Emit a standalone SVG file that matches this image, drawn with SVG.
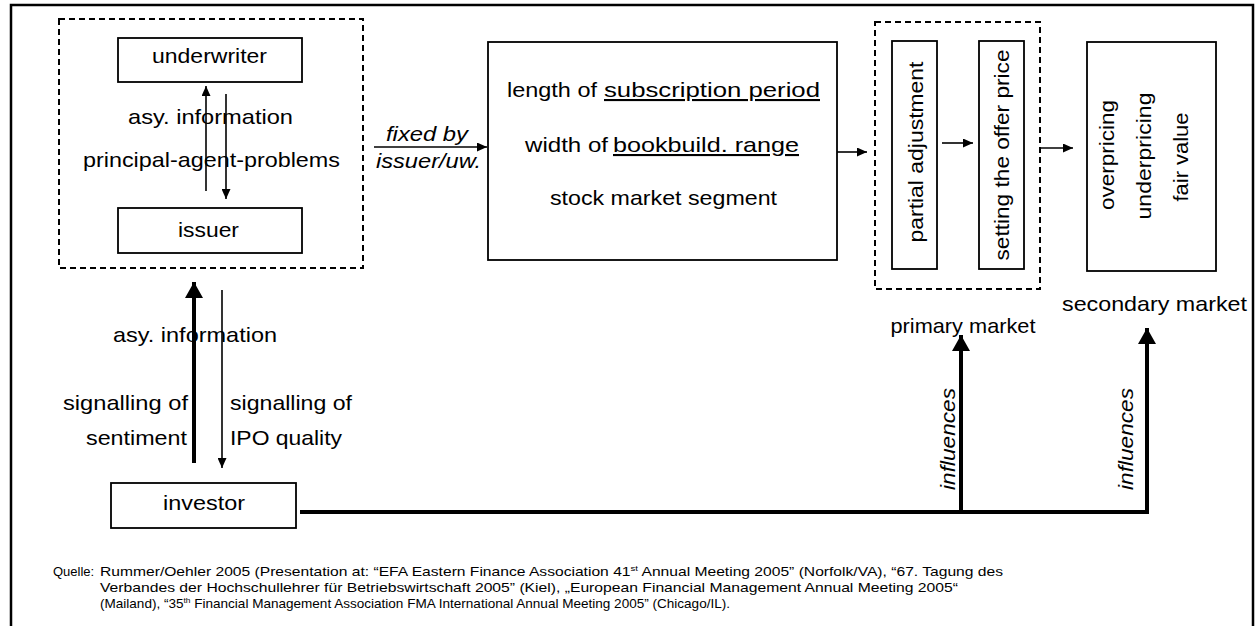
<svg xmlns="http://www.w3.org/2000/svg" width="1260" height="626" viewBox="0 0 1260 626">
<defs>
<style>
text{font-family:"Liberation Sans",Arial,sans-serif;fill:#000;}
.t{font-size:21px;}
.it{font-size:21px;font-style:italic;}
.ft{font-size:13px;}
.box{fill:#fff;stroke:#000;stroke-width:1.8;}
.dash{fill:none;stroke:#000;stroke-width:2;stroke-dasharray:6 4;}
.thin{fill:none;stroke:#000;stroke-width:1.6;}
.thick{fill:none;stroke:#000;stroke-width:4;}
.ul{text-decoration:underline;}
</style>
<marker id="ah" markerUnits="userSpaceOnUse" markerWidth="10" markerHeight="9" refX="10" refY="4.5" orient="auto">
<path d="M0,0 L10,4.5 L0,9 z" fill="#000"/>
</marker>
<marker id="ahT" markerUnits="userSpaceOnUse" markerWidth="16" markerHeight="18" refX="16" refY="9" orient="auto">
<path d="M0,0 L16,9 L0,18 z" fill="#000"/>
</marker>
</defs>
<rect width="1260" height="626" fill="#fff"/>
<rect x="11" y="5" width="1242" height="630" fill="none" stroke="#000" stroke-width="2.5"/>

<g id="issuer-group">
<rect class="dash" x="59" y="19" width="304" height="249"/>
</g>
<g id="underwriter">
<rect class="box" x="118" y="38" width="184" height="44"/>
<text class="t" x="152" y="63" textLength="115" lengthAdjust="spacingAndGlyphs">underwriter</text>
</g>
<g id="issuer">
<rect class="box" x="118" y="208" width="184" height="45"/>
<text class="t" x="178" y="237" textLength="61" lengthAdjust="spacingAndGlyphs">issuer</text>
</g>
<g id="parameters">
<rect class="box" x="488" y="42" width="349" height="218"/>
<text class="t" x="507" y="97" textLength="90" lengthAdjust="spacingAndGlyphs">length of</text>
<text class="t ul" x="604" y="97" textLength="216" lengthAdjust="spacingAndGlyphs">subscription period</text>
<text class="t" x="525" y="152" textLength="83" lengthAdjust="spacingAndGlyphs">width of</text>
<text class="t ul" x="613" y="152" textLength="186" lengthAdjust="spacingAndGlyphs">bookbuild. range</text>
<text class="t" x="550" y="205" textLength="227" lengthAdjust="spacingAndGlyphs">stock market segment</text>
</g>
<g id="primary-market">
<rect class="dash" x="875" y="22" width="165" height="267"/>
<text class="t" x="963" y="333" text-anchor="middle" textLength="145" lengthAdjust="spacingAndGlyphs">primary market</text>
</g>
<g id="partial-adjustment">
<rect class="box" x="892" y="41" width="45" height="228"/>
<text class="t" transform="translate(923,152) rotate(-90)" text-anchor="middle" textLength="181" lengthAdjust="spacingAndGlyphs">partial adjustment</text>
</g>
<g id="offer-price">
<rect class="box" x="979" y="41" width="45" height="228"/>
<text class="t" transform="translate(1009,155) rotate(-90)" text-anchor="middle" textLength="211" lengthAdjust="spacingAndGlyphs">setting the offer price</text>
</g>
<g id="secondary-market">
<rect class="box" x="1087" y="42" width="129" height="229"/>
<text class="t" transform="translate(1114,155) rotate(-90)" text-anchor="middle" textLength="110" lengthAdjust="spacingAndGlyphs">overpricing</text>
<text class="t" transform="translate(1151,156) rotate(-90)" text-anchor="middle" textLength="127" lengthAdjust="spacingAndGlyphs">underpricing</text>
<text class="t" transform="translate(1188,157) rotate(-90)" text-anchor="middle" textLength="89" lengthAdjust="spacingAndGlyphs">fair value</text>
<text class="t" x="1062" y="311" textLength="185" lengthAdjust="spacingAndGlyphs">secondary market</text>
</g>
<g id="investor">
<rect class="box" x="111" y="483" width="185" height="45"/>
<text class="t" x="163" y="510" textLength="82" lengthAdjust="spacingAndGlyphs">investor</text>
</g>

<g id="labels">
<text class="t" x="128" y="124" textLength="165" lengthAdjust="spacingAndGlyphs">asy. information</text>
<text class="t" x="83" y="167" textLength="257" lengthAdjust="spacingAndGlyphs">principal-agent-problems</text>
<text class="it" x="386" y="141" textLength="82" lengthAdjust="spacingAndGlyphs">fixed by</text>
<text class="it" x="376" y="168" textLength="105" lengthAdjust="spacingAndGlyphs">issuer/uw.</text>
<text class="t" x="113" y="342" textLength="164" lengthAdjust="spacingAndGlyphs">asy. information</text>
<text class="t" x="63" y="410" textLength="125" lengthAdjust="spacingAndGlyphs">signalling of</text>
<text class="t" x="86" y="445" textLength="101" lengthAdjust="spacingAndGlyphs">sentiment</text>
<text class="t" x="230" y="410" textLength="122" lengthAdjust="spacingAndGlyphs">signalling of</text>
<text class="t" x="230" y="445" textLength="112" lengthAdjust="spacingAndGlyphs">IPO quality</text>
<text class="it" transform="translate(955,439) rotate(-90)" text-anchor="middle" textLength="102" lengthAdjust="spacingAndGlyphs">influences</text>
<text class="it" transform="translate(1133,439) rotate(-90)" text-anchor="middle" textLength="102" lengthAdjust="spacingAndGlyphs">influences</text>
</g>

<g id="connectors">
<line class="thin" x1="206" y1="191" x2="206" y2="86" marker-end="url(#ah)"/>
<line class="thin" x1="226" y1="94" x2="226" y2="199" marker-end="url(#ah)"/>
<line class="thin" x1="374" y1="147" x2="487" y2="147" marker-end="url(#ah)"/>
<line class="thin" x1="837" y1="152" x2="867" y2="152" marker-end="url(#ah)"/>
<line class="thin" x1="942" y1="143" x2="973" y2="143" marker-end="url(#ah)"/>
<line class="thin" x1="1040" y1="148" x2="1073" y2="148" marker-end="url(#ah)"/>
<line class="thick" x1="194" y1="463" x2="194" y2="282" marker-end="url(#ahT)"/>
<line class="thin" x1="222" y1="290" x2="222" y2="468" marker-end="url(#ah)"/>
<polyline class="thick" points="300,512 1147,512 1147,328" marker-end="url(#ahT)"/>
<line class="thick" x1="961" y1="512" x2="961" y2="335" marker-end="url(#ahT)"/>
</g>

<g id="source">
<text class="ft" x="53" y="576">Quelle:</text>
<text class="ft" x="100" y="576" textLength="903" lengthAdjust="spacingAndGlyphs">Rummer/Oehler 2005 (Presentation at: “EFA Eastern Finance Association 41<tspan font-size="8" dy="-5">st</tspan><tspan dy="5"> Annual Meeting 2005” (Norfolk/VA), “67. Tagung des</tspan></text>
<text class="ft" x="100" y="592" textLength="858" lengthAdjust="spacingAndGlyphs">Verbandes der Hochschullehrer für Betriebswirtschaft 2005” (Kiel), „European Financial Management Annual Meeting 2005“</text>
<text class="ft" x="100" y="608" textLength="630" lengthAdjust="spacingAndGlyphs">(Mailand), “35<tspan font-size="8" dy="-5">th</tspan><tspan dy="5"> Financial Management Association FMA International Annual Meeting 2005” (Chicago/IL).</tspan></text>
</g>
</svg>
